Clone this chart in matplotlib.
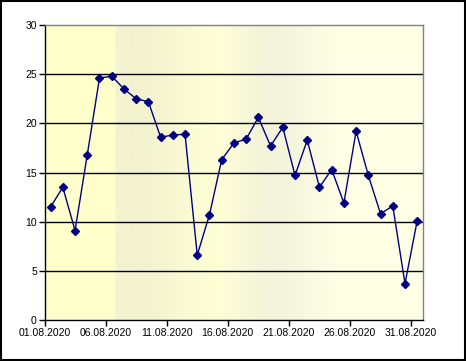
import numpy as np
import matplotlib.pyplot as plt
from matplotlib.colors import LinearSegmentedColormap
from matplotlib.patches import Rectangle

plt.rcParams['font.family'] = ['Liberation Sans', 'DejaVu Sans']

# day of month, August 2020
days = list(range(1, 32))
values = [11.5, 13.5, 9.1, 16.8, 24.6, 24.8, 23.5, 22.5, 22.2, 18.6,
          18.8, 18.9, 6.6, 10.7, 16.3, 18.0, 18.4, 20.6, 17.7, 19.6,
          14.7, 18.3, 13.5, 15.3, 11.9, 19.2, 14.7, 10.8, 11.6, 3.7,
          10.1]
tick_days = [1, 6, 11, 16, 21, 26, 31]
tick_labels = ['01.08.2020', '06.08.2020', '11.08.2020', '16.08.2020',
               '21.08.2020', '26.08.2020', '31.08.2020']

fig = plt.figure(figsize=(4.66, 3.61), dpi=100)
fig.patch.set_facecolor('white')
fig.patches.append(Rectangle((0.002, 0.003), 0.995, 0.993, transform=fig.transFigure,
                             fill=False, edgecolor='black', linewidth=1.5))

ax = fig.add_axes([0.0955, 0.1136, 0.8129, 0.8171])

# soft banded background like the original plot area fill
stops = [(0.0, '#FFFFCC'), (0.183, '#FFFFCC'), (0.186, '#F3F3D0'),
         (0.27, '#F3F3D0'), (0.45, '#FFFFD6'), (0.58, '#F3F3DA'),
         (0.66, '#F6F6DF'), (0.77, '#FFFFE6'), (1.0, '#FFFFE6')]
cmap = LinearSegmentedColormap.from_list('bg', stops)
grad = np.linspace(0, 1, 400).reshape(1, -1)
ax.imshow(grad, cmap=cmap, aspect='auto', extent=(1, 32, 0, 30), zorder=0)

x = [d + 0.5 for d in days]
ax.plot(x, values, color='#000080', linewidth=1, marker='D', markersize=4.5,
        markerfacecolor='#000080', markeredgecolor='#000080', zorder=3)

ax.set_xlim(1, 32)
ax.set_ylim(0, 30)
ax.set_yticks(range(0, 31, 5))
ax.set_xticks(tick_days)
ax.set_xticklabels(tick_labels)
ax.tick_params(axis='both', labelsize=7.5, colors='black', length=4, width=1, pad=1.5)

for yv in range(5, 30, 5):
    ax.axhline(yv, color='black', linewidth=1, zorder=1)

ax.spines['left'].set_color('black')
ax.spines['bottom'].set_color('black')
ax.spines['top'].set_color('#808080')
ax.spines['right'].set_color('#808080')
for s in ax.spines.values():
    s.set_linewidth(1)

plt.savefig('out.png', dpi=100)
